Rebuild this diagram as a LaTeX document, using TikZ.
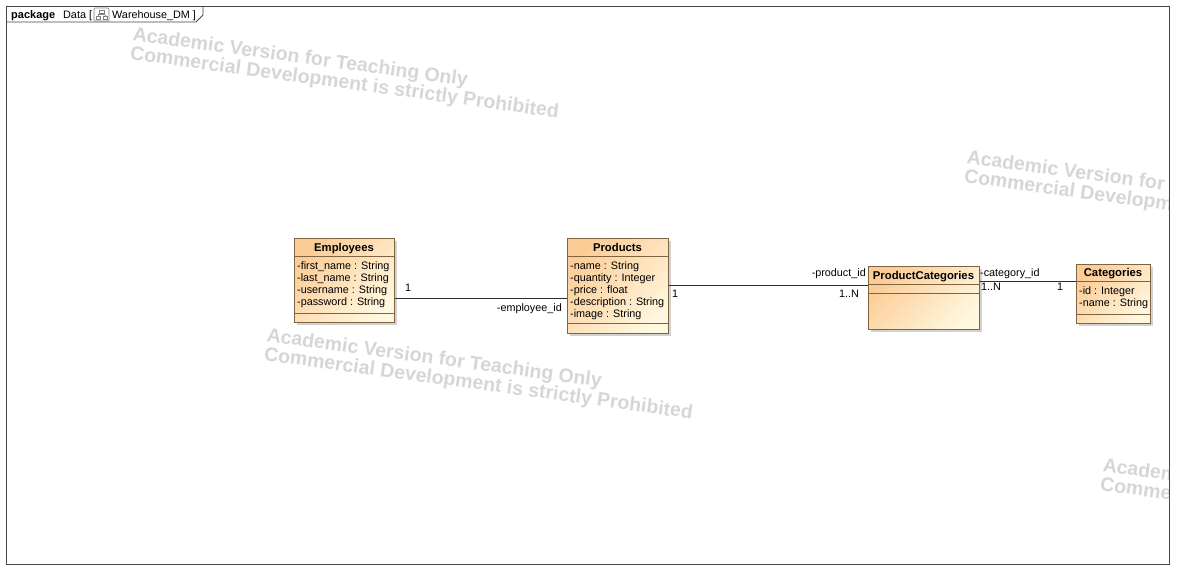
\documentclass[tikz,border=0pt]{standalone}
\usepackage{fontspec}
\setmainfont{Liberation Sans}
\usetikzlibrary{shadows}

\definecolor{umlborder}{RGB}{128,100,64}
\definecolor{umltop}{RGB}{252,204,150}
\definecolor{umlbottom}{RGB}{255,247,222}
\definecolor{wmgray}{RGB}{214,214,214}
\definecolor{edgegray}{RGB}{45,45,45}
\definecolor{framegray}{RGB}{70,70,70}

\tikzset{
  classbox/.style={draw=umlborder, line width=0.9pt, top color=umltop, bottom color=umlbottom, shading angle=45,
    drop shadow={opacity=0.35, shadow xshift=2.5pt, shadow yshift=-2.5pt}, anchor=north west, inner sep=0pt},
  classname/.style={font=\fontsize{11.3}{13}\selectfont\bfseries, inner sep=0pt, anchor=base},
  attr/.style={font=\fontsize{10.8}{12}\selectfont, anchor=base west, inner sep=0pt},
  role/.style={font=\fontsize{10.8}{12}\selectfont, inner sep=0pt, anchor=base},
  assoc/.style={draw=edgegray, line width=0.8pt},
  compart/.style={draw=umlborder, line width=0.8pt},
  watermark/.style={font=\fontsize{19.5}{16.5}\selectfont\bfseries, text=wmgray, align=left, anchor=north west,
    inner sep=0pt, rotate=-7.8}
}

\begin{document}
\begin{tikzpicture}[x=1pt, y=-1pt]
    \useasboundingbox (0,0) rectangle (1184,579);
    \fill[white] (0,0) rectangle (1184,579);

    % Watermarks
    \begin{scope}
        \clip (6,6) rectangle (1169,564);
        \node[watermark] (wmA) at (134,26) {Academic Version for Teaching Only\\Commercial Development is strictly Prohibited};
        \node[watermark] (wmB) at (268,327) {Academic Version for Teaching Only\\Commercial Development is strictly Prohibited};
        \node[watermark] (wmC) at (968,149) {Academic Version for Teaching Only\\Commercial Development is strictly Prohibited};
        \node[watermark] (wmD) at (1104,457) {Academic Version for Teaching Only\\Commercial Development is strictly Prohibited};
    \end{scope}

    % Package frame
    \draw[framegray, line width=0.8pt] (6,6) rectangle (1169,564);
    \draw[framegray, line width=0.8pt] (6,22) -- (196,22) -- (203,15) -- (203,6);
    \node[anchor=base west, inner sep=0pt, font=\fontsize{11}{13}\selectfont\bfseries] (pkgKw) at (11,18) {package};
    \node[anchor=base west, inner sep=0pt, font=\fontsize{10.8}{13}\selectfont] (pkgName) at (63,18) {Data [};
    \draw[gray, line width=0.7pt, rounded corners=1pt] (94,8) rectangle (109,21);
    \draw[gray, line width=0.6pt] (99,10) rectangle (104,13) (96,16) rectangle (100,19) (103,16) rectangle (107,19);
    \draw[gray, line width=0.6pt] (101.5,13) -- (101.5,14.5) (98,14.5) -- (105,14.5) (98,14.5) -- (98,16) (105,14.5) -- (105,16);
    \node[anchor=base west, inner sep=0pt, font=\fontsize{10.8}{13}\selectfont] (pkgDiag) at (112,18) {Warehouse\_DM ]};

    % Classes
    \node[classbox, minimum width=100pt, minimum height=84pt] (emp) at (294,238) {};
    \draw[compart] (294,256) -- (394,256) (294,313) -- (394,313);
    \node[classname] (empTitle) at (344,251) {Employees};
    \foreach \t [count=\i] in {-first\_name : String, -last\_name : String, -username : String, -password : String}
        \node[attr] (emp-\i) at (297,257+12*\i) {\t};

    \node[classbox, minimum width=101pt, minimum height=95pt] (prod) at (567,238) {};
    \draw[compart] (567,256) -- (668,256) (567,323) -- (668,323);
    \node[classname] (prodTitle) at (617.5,251) {Products};
    \foreach \t [count=\i] in {-name : String, -quantity : Integer, -price : float, -description : String, -image : String}
        \node[attr] (prod-\i) at (570,257+12*\i) {\t};

    \node[classbox, minimum width=111pt, minimum height=63pt] (pc) at (868,266) {};
    \draw[compart] (868,284) -- (979,284) (868,293) -- (979,293);
    \node[classname] (pcTitle) at (923.5,279) {ProductCategories};

    \node[classbox, minimum width=74pt, minimum height=59pt] (cat) at (1076,264) {};
    \draw[compart] (1076,281) -- (1150,281) (1076,314) -- (1150,314);
    \node[classname] (catTitle) at (1113,276.5) {Categories};
    \foreach \t [count=\i] in {-id : Integer, -name : String}
        \node[attr] (cat-\i) at (1079,282+12*\i) {\t};

    % Associations
    \coordinate (empR) at ([yshift=-18pt]emp.east);
    \coordinate (prodR) at ([yshift=1pt]prod.east);
    \coordinate (pcR) at ([yshift=17pt]pc.east);
    \draw[assoc] (empR) -- (empR -| prod.west);
    \draw[assoc] (prodR) -- (prodR -| pc.west);
    \draw[assoc] (pcR) -- (pcR -| cat.west);

    % Role names and multiplicities
    \node[role] (empMult) at (408,291) {1};
    \node[role, anchor=base east] (empRole) at (562,311) {-employee\_id};
    \node[role] (prodMult) at (675,297) {1};
    \node[role, anchor=base east] (prodRole) at (866,276) {-product\_id};
    \node[role, anchor=base east] (pcMultA) at (859,297) {1..N};
    \node[role, anchor=base west] (catRole) at (980,276) {-category\_id};
    \node[role, anchor=base west] (pcMultB) at (981,290) {1..N};
    \node[role] (catMult) at (1060,290) {1};
\end{tikzpicture}
\end{document}
